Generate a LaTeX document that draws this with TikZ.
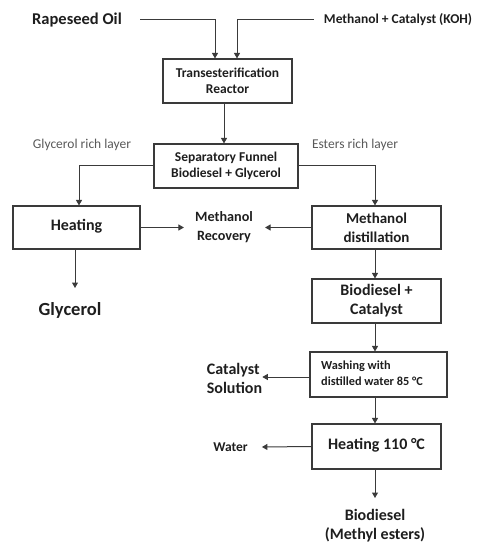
\documentclass[tikz,border=0pt]{standalone}
\usepackage{fontspec}
\setmainfont{Carlito}
\usetikzlibrary{arrows.meta}
\definecolor{ln}{HTML}{3A3A3A}
\definecolor{tx}{HTML}{1E1E1E}
\definecolor{gr}{HTML}{595959}
\begin{document}
\begin{tikzpicture}[x=1pt,y=-1pt,
  box/.style={draw=ln, line width=1.1pt, inner sep=0pt, text=tx, align=center},
  lbl/.style={inner sep=0pt, text=tx, align=center},
  glbl/.style={inner sep=0pt, text=gr, font=\fontsize{13.5}{16}\selectfont},
  arr/.style={draw=ln, line width=1pt, -{Triangle[length=5.5pt,width=6pt]}},
  fA/.style={font=\fontsize{13.5}{16.5}\selectfont\bfseries},
  fB/.style={font=\fontsize{16}{19}\selectfont\bfseries},
  fC/.style={font=\fontsize{12.3}{16}\selectfont\bfseries}]
\useasboundingbox (0,0) rectangle (477,545);

% inputs
\node[lbl, font=\fontsize{16.5}{19}\selectfont\bfseries] (rape) at (77,20) {Rapeseed Oil};
\node[lbl, fA] (meth) at (398,20) {Methanol + Catalyst (KOH)};

% boxes
\node[box, fA, minimum width=129, minimum height=44] (reac) at (227.5,81) {Transesterification\\Reactor};
\node[box, fA, minimum width=144, minimum height=44] (sep) at (226,166) {Separatory Funnel\\Biodiesel + Glycerol};
\node[box, fB, minimum width=127, minimum height=43] (heat) at (76.5,227.5) {\raisebox{5pt}{Heating}};
\node[box, font=\fontsize{15}{19}\selectfont\bfseries, minimum width=129, minimum height=43] (dist) at (376.5,227.5) {Methanol\\distillation};
\node[box, fB, minimum width=129, minimum height=44] (bio) at (376.5,301) {\raisebox{-3pt}{\begin{tabular}{@{}c@{}}Biodiesel +\\Catalyst\end{tabular}}};
\node[box, fC, minimum width=137, minimum height=45, align=left] (wash) at (378.5,374.5) {\hspace*{-13pt}\raisebox{-1pt}{\begin{tabular}{@{}l@{}}Washing with\\distilled water 85 °C\end{tabular}}};
\node[box, fB, minimum width=129, minimum height=45] (heat2) at (376.5,446.5) {\raisebox{4.5pt}{Heating 110 °C}};

% text outputs
\node[glbl] (glr) at (82,145) {Glycerol rich layer};
\node[glbl] (err) at (355,145) {Esters rich layer};
\node[lbl, font=\fontsize{14.2}{19}\selectfont\bfseries] (rec) at (224,227.5) {Methanol\\Recovery};
\node[lbl, font=\fontsize{18.5}{22}\selectfont\bfseries] (glyc) at (70,310) {Glycerol};
\node[lbl, fB, align=left] (cat) at (234.5,378.5) {Catalyst\\Solution};
\node[lbl, fA] (water) at (230.5,447) {Water};
\node[lbl, fB] (final) at (375,525.5) {Biodiesel\\(Methyl esters)};

% connectors
\draw[arr] ([xshift=18pt]rape.east) -| ([xshift=-12.5pt]reac.north);
\draw[arr] ([xshift=-10pt]meth.west) -| ([xshift=9.5pt]reac.north);
\draw[arr] ([xshift=-3.5pt]reac.south) -- ([xshift=-2pt]sep.north);
\draw[arr] (sep.west) -| ([xshift=2.5pt]heat.north);
\draw[arr] (sep.east) -| ([xshift=-1.5pt]dist.north);
\draw[arr] (heat.east) -- ([xshift=-11pt]rec.west);
\draw[arr] (dist.west) -- ([xshift=12pt]rec.east);
\draw[arr] ([xshift=-1.5pt]heat.south) -- ([xshift=-1.5pt]heat.south |- 0,288);
\draw[arr] ([xshift=-1.5pt]dist.south) -- ([xshift=-1.5pt]bio.north);
\draw[arr] ([xshift=-1.5pt]bio.south) -- ([xshift=-3.5pt]wash.north);
\draw[arr] ([yshift=-2.5pt]wash.west) -- ([yshift=-2.5pt]wash.west -| cat.east);
\draw[arr] ([xshift=-3.5pt]wash.south) -- ([xshift=-1.5pt]heat2.north);
\draw[arr] (heat2.west) -- ([xshift=14pt]water.east);
\draw[arr] ([xshift=-1.5pt]heat2.south) -- ([xshift=-1.5pt]heat2.south |- 0,498);
\end{tikzpicture}
\end{document}
